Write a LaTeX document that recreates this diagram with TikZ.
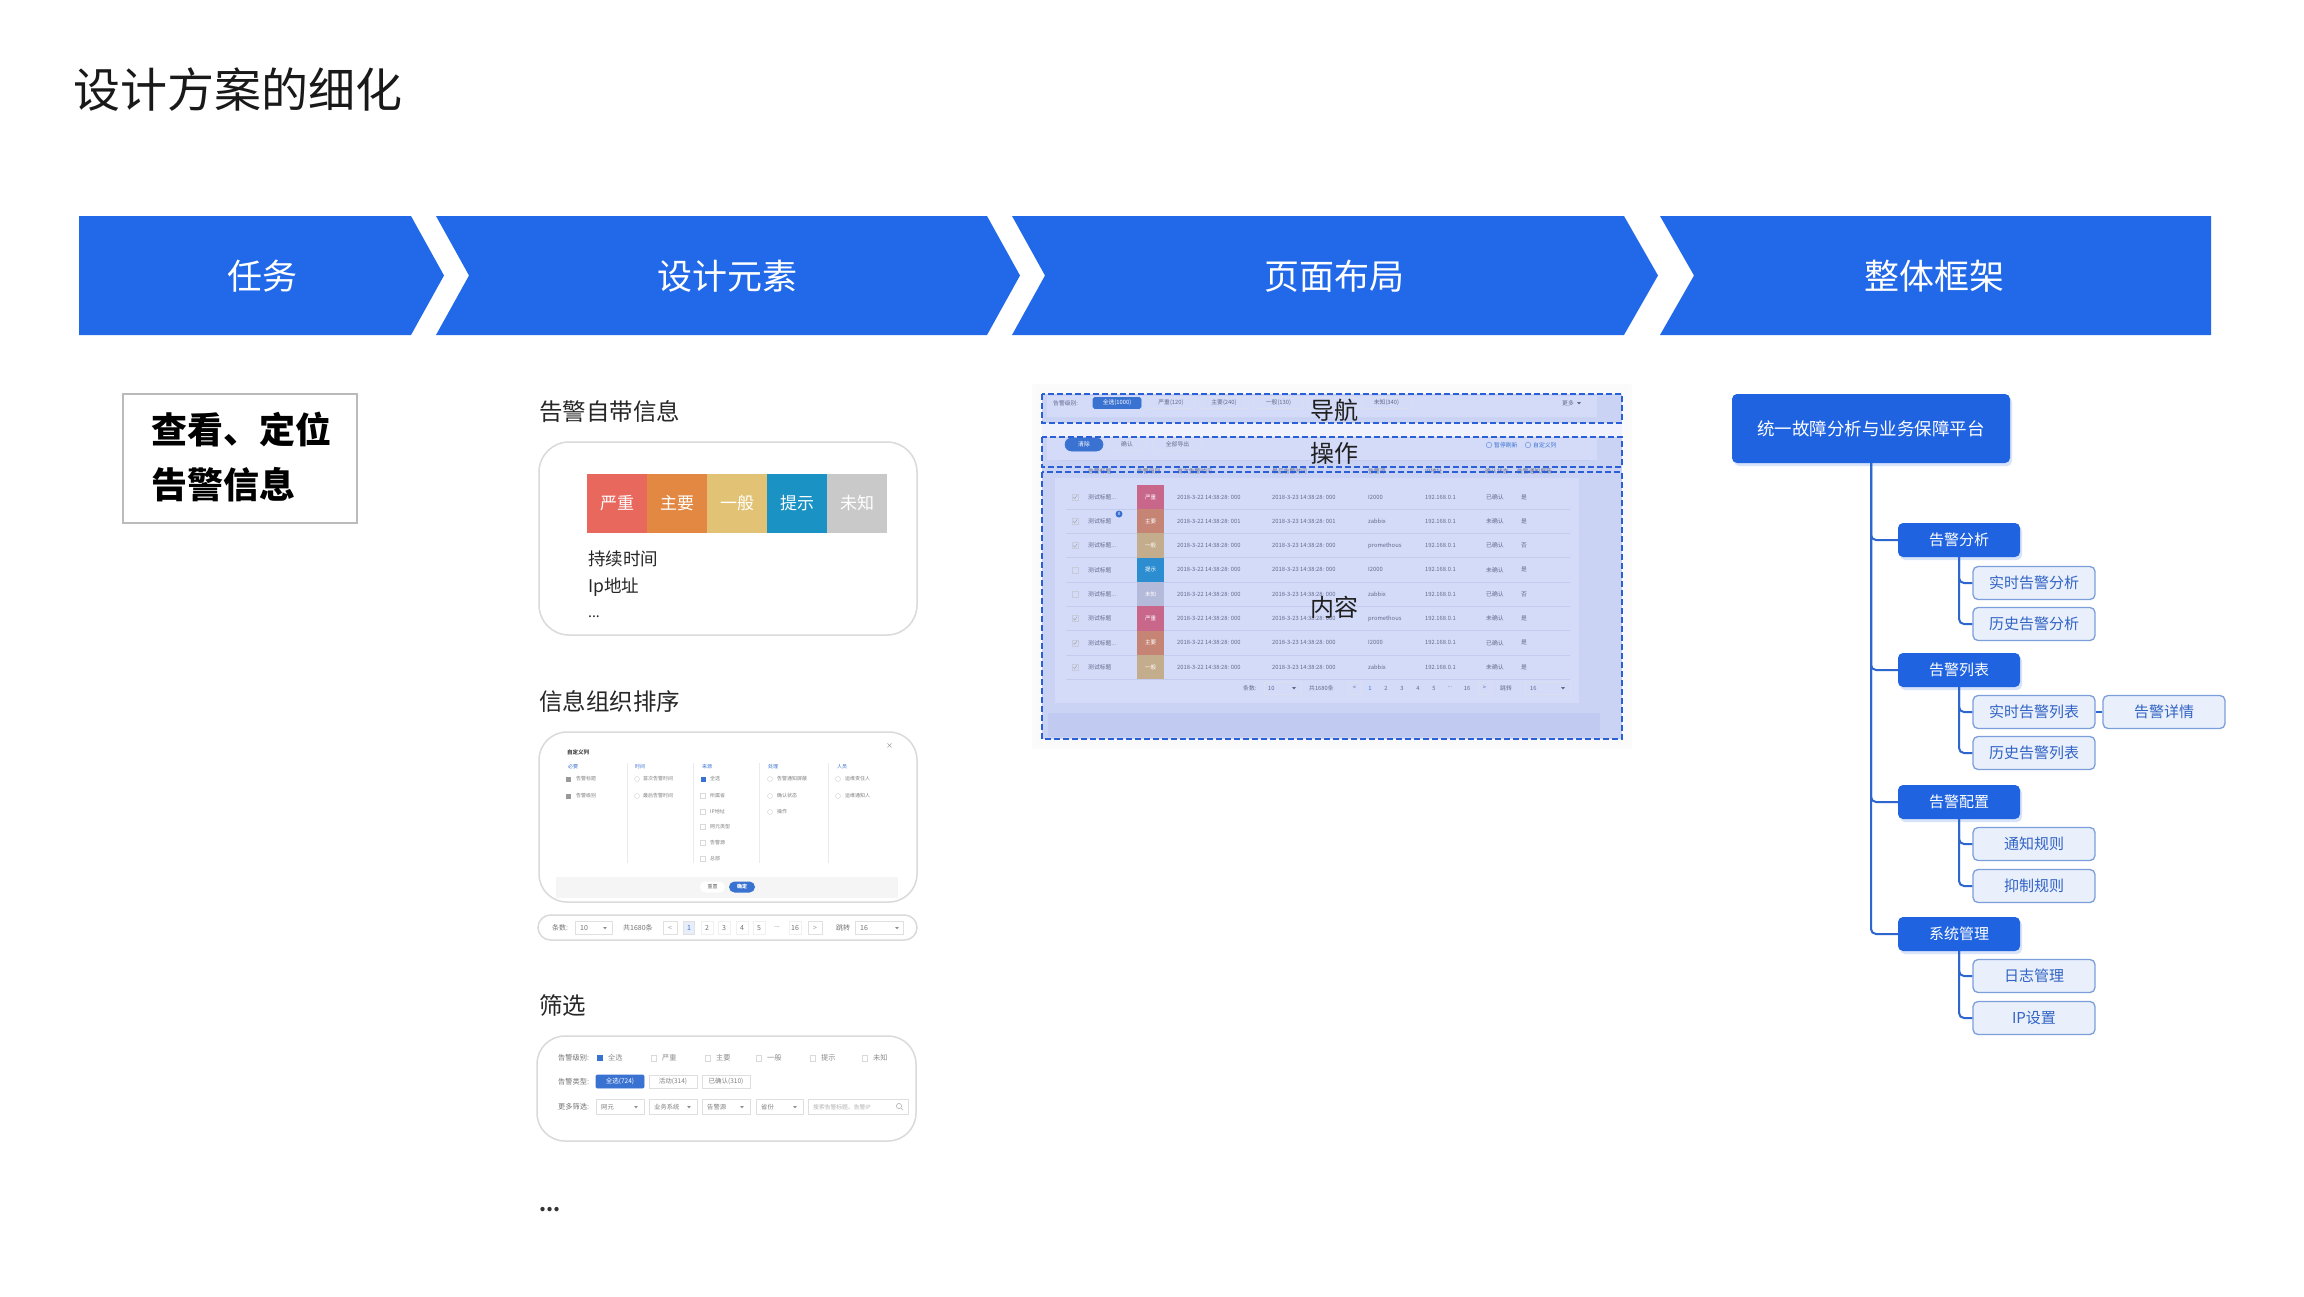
\documentclass[tikz,border=0pt]{standalone}
\usepackage{fontspec}
\setmainfont{Noto Sans CJK SC}
\usetikzlibrary{shadows}
\newcommand\fsz[1]{\fontsize{#1}{#1}\selectfont}
\newcommand\tdots{.{}..}
\newcommand\dtri[2]{\fill[black!45] ({#1-1.8},{#2-0.9}) -- ({#1+1.8},{#2-0.9}) -- (#1,{#2+1.3}) -- cycle;}
\definecolor{chev}{HTML}{2169E8}
\definecolor{treeblue}{HTML}{1F63E0}
\definecolor{l2fill}{HTML}{E9F0FB}
\definecolor{l2line}{HTML}{7C9EDA}
\definecolor{l2text}{HTML}{3263C4}
\definecolor{branch}{HTML}{2C66CE}
\definecolor{cardline}{HTML}{DADADA}
\definecolor{lav}{HTML}{CBD3F4}
\definecolor{lavlight}{HTML}{D4DBF8}
\definecolor{lavdark}{HTML}{BCC6EE}
\definecolor{lavline}{HTML}{C3CBEF}
\definecolor{dashblue}{HTML}{2B5FD8}
\definecolor{sstext}{HTML}{626A8E}
\definecolor{ssblue}{HTML}{3A72D2}
\definecolor{cRed}{HTML}{E8685E}
\definecolor{cOrange}{HTML}{E38842}
\definecolor{cYellow}{HTML}{E2C274}
\definecolor{cBlue}{HTML}{1A92C4}
\definecolor{cGray}{HTML}{C9C9C9}
\definecolor{oRed}{HTML}{C9678A}
\definecolor{oOrange}{HTML}{C58474}
\definecolor{oYellow}{HTML}{C4AD8C}
\definecolor{oBlue}{HTML}{2C8ED0}
\definecolor{oGray}{HTML}{B4BAD9}
\tikzset{
  chevtext/.style={text=white, font=\fsz{35}, inner sep=0},
  lbl/.style={anchor=west, inner sep=0, font=\fsz{23.5}, text=black!85},
  card/.style={draw=cardline, line width=1.5pt, fill=white},
  seg/.style={minimum width=60pt, minimum height=59pt, inner sep=0, text=white, font=\fsz{17}},
  info/.style={anchor=west, inner sep=0, font=\fsz{17.5}, text=black!85},
  dlg/.style={anchor=west, inner sep=0, font=\fsz{5}, text=black!50},
  pg/.style={inner sep=0, font=\fsz{7}, text=black!55},
  pgbox/.style={draw=black!12, line width=0.6pt, inner sep=0},
  flt/.style={anchor=west, inner sep=0, font=\fsz{7.2}, text=black!55},
  fltbox/.style={draw=black!13, line width=0.6pt, inner sep=0, minimum height=13pt, font=\fsz{6.5}, text=black!50},
  sst/.style={anchor=west, inner sep=0, font=\fsz{5.8}, text=sstext},
  ssbox/.style={draw=lavline!70!sstext!40, line width=0.6pt, rounded corners=1.5pt, inner sep=0, minimum height=11pt, font=\fsz{5.8}, text=sstext},
  dashbox/.style={draw=dashblue, line width=2pt, dash pattern=on 6pt off 3pt},
  arealbl/.style={inner sep=0, font=\fsz{24}, text=black!88},
  rootbox/.style={fill=treeblue, text=white, rounded corners=5pt, minimum width=278pt, minimum height=69pt, font=\fsz{17.5}, inner sep=0,
     drop shadow={shadow xshift=2pt, shadow yshift=-3pt, opacity=.25, fill=treeblue!70}},
  lone/.style={fill=treeblue, text=white, rounded corners=5pt, minimum width=122pt, minimum height=34pt, font=\fsz{15}, inner sep=0,
     drop shadow={shadow xshift=2pt, shadow yshift=-3pt, opacity=.25, fill=treeblue!70}},
  ltwo/.style={fill=l2fill, draw=l2line, line width=1.3pt, text=l2text, rounded corners=5pt, minimum width=122pt, minimum height=33pt, font=\fsz{15}, inner sep=0},
  brl/.style={draw=branch, line width=2pt, rounded corners=5pt},
}
\begin{document}
\begin{tikzpicture}[x=1pt,y=-1pt]
\useasboundingbox (0,0) rectangle (2304,1296);
\fill[white] (0,0) rectangle (2304,1296);

% ---------- title ----------
\node[anchor=west, inner sep=0, font=\fsz{47}, text=black!90] (title) at (73,90) {设计方案的细化};

% ---------- chevrons ----------
\fill[chev] (79,216) -- (411,216) -- (444,275.5) -- (411,335) -- (79,335) -- cycle;
\fill[chev] (436,216) -- (987,216) -- (1020,275.5) -- (987,335) -- (436,335) -- (469,275.5) -- cycle;
\fill[chev] (1012,216) -- (1624,216) -- (1658,275.5) -- (1624,335) -- (1012,335) -- (1045,275.5) -- cycle;
\fill[chev] (1660,216) -- (2211,216) -- (2211,335) -- (1660,335) -- (1694,275.5) -- cycle;
\node[chevtext] (c1) at (262,276) {任务};
\node[chevtext] (c2) at (727,276) {设计元素};
\node[chevtext] (c3) at (1334,276) {页面布局};
\node[chevtext] (c4) at (1934,276) {整体框架};

% ---------- task box ----------
\draw[black!27, line width=2.5pt] (123,394) rectangle (357,523);
\node[anchor=west, inner sep=0, font=\fsz{36}\bfseries] (tk1) at (151,430) {查看、定位};
\node[anchor=west, inner sep=0, font=\fsz{36}\bfseries] (tk2) at (151,485) {告警信息};

% ---------- design elements ----------
\node[lbl] (l1) at (539,412) {告警自带信息};
\draw[card, rounded corners=30pt] (539,442) rectangle (917,635);
\fill[cRed] (587,474) rectangle (647,533);
\fill[cOrange] (647,474) rectangle (707,533);
\fill[cYellow] (707,474) rectangle (767,533);
\fill[cBlue] (767,474) rectangle (827,533);
\fill[cGray] (827,474) rectangle (887,533);
\node[seg] (s1) at (617,503.5) {严重};
\node[seg] (s2) at (677,503.5) {主要};
\node[seg] (s3) at (737,503.5) {一般};
\node[seg] (s4) at (797,503.5) {提示};
\node[seg] (s5) at (857,503.5) {未知};
\node[info] (i1) at (588,559) {持续时间};
\node[info] (i2) at (588,587) {Ip地址};
\node[info, font=\fsz{14}] (i3) at (588,617) {...};

\node[lbl] (l2) at (539,701) {信息组织排序};
\draw[card, rounded corners=28pt] (539,732) rectangle (917,902);
% dialog
\node[dlg, text=black!72, font=\fsz{5.5}\bfseries] (dt) at (567,752) {自定义列};
\node[dlg, font=\fsz{7}] (dx) at (886,746) {×};
\foreach \k/\xx/\tt in {1/568/必要,2/635/时间,3/702/来源,4/768/处理,5/837/人员}
  \node[dlg, text=ssblue] (dh\k) at (\xx,767) {\tt};
\foreach \xx in {627,693,759,828}
  \draw[black!8, line width=0.8pt] (\xx,763) -- (\xx,863);
\foreach \k/\xx/\yy/\tt in {1/576/779/告警标题,2/576/796/告警级别,3/643/779/首次告警时间,4/643/796/最后告警时间,
  5/710/779/全选,6/710/796/所属省,7/710/812/IP地址,8/710/827/网元类型,9/710/843/告警源,10/710/859/总部,
  11/777/779/告警通知屏蔽,12/777/796/确认状态,13/777/812/操作,14/845/779/运维责任人,15/845/796/运维通知人}
  \node[dlg] (di\k) at (\xx,\yy) {\tt};
\fill[black!40] (565.5,776.5) rectangle (570.5,781.5);
\fill[black!40] (565.5,793.5) rectangle (570.5,798.5);
\fill[ssblue] (700.5,776.5) rectangle (705.5,781.5);
\foreach \yy in {796,812,827,843,859} \draw[black!15, line width=0.5pt] (700.5,\yy-2.5) rectangle (705.5,\yy+2.5);
\foreach \xx/\yy in {637/779,637/796,770/779,770/796,770/812,838/779,838/796}
  \draw[black!15, line width=0.5pt] (\xx,\yy) circle (2.5);
\fill[black!4] (556,877) rectangle (898,898);
\node[fill=white, rounded corners=5.5pt, minimum width=25pt, minimum height=11pt, inner sep=0, font=\fsz{5}, text=black!60] (dr) at (712.5,887) {重置};
\node[fill=ssblue, rounded corners=5.5pt, minimum width=26pt, minimum height=11pt, inner sep=0, font=\fsz{5}\bfseries, text=white] (dok) at (742,887) {确定};
% pagination pill
\draw[card, rounded corners=12.5pt] (538,915) rectangle (917,940);
\node[pg, anchor=west] (p1) at (552,928) {条数:};
\node[pgbox, minimum width=37pt, minimum height=13pt] (p2) at (593.5,928) {};
\node[pg, anchor=west] (p2t) at (580,928) {10};
\dtri{605}{928}
\node[pg, anchor=west] (p3) at (623,928) {共1680条};
\node[pgbox, minimum width=14pt, minimum height=13pt, font=\fsz{7}, text=black!40] (p4) at (670,928) {<};
\node[pgbox, fill=ssblue!12, minimum width=11pt, minimum height=13pt, font=\fsz{7}, text=ssblue] (p5) at (689,928) {1};
\foreach \k/\xx/\tt in {6/707/2,7/724/3,8/742/4,9/759/5,11/795/16}
  \node[pgbox, draw=black!6, minimum width=12pt, minimum height=13pt, font=\fsz{7}, text=black!55] (p\k) at (\xx,928) {\tt};
\node[pg] (p10) at (777,927) {...};
\node[pgbox, minimum width=14pt, minimum height=13pt, font=\fsz{7}, text=black!40] (p12) at (815,928) {>};
\node[pg, anchor=west] (p13) at (836,928) {跳转};
\node[pgbox, minimum width=48pt, minimum height=13pt] (p14) at (879,928) {};
\node[pg, anchor=west] (p14t) at (860,928) {16};
\dtri{897}{928}

\node[lbl] (l3) at (539,1005) {筛选};
\draw[card, rounded corners=28pt] (537,1036) rectangle (916,1141);
\node[flt] (f1) at (558,1058) {告警级别:};
\fill[ssblue] (597,1055) rectangle (603,1061);
\node[flt, text=black!45] (f1a) at (608,1058) {全选};
\foreach \k/\xx/\tt in {b/651/严重,c/705/主要,d/756/一般,e/810/提示,f/862/未知}{
  \draw[black!15, line width=0.5pt] (\xx,1055) rectangle (\xx+5.5,1061);
  \node[flt, text=black!45] (f1\k) at (\xx+11,1058) {\tt};
}
\node[flt] (f2) at (558,1082) {告警类型:};
\node[fltbox, fill=ssblue, draw=ssblue, text=white, minimum width=48pt, rounded corners=1pt] (f2a) at (620,1081.5) {全选(724)};
\node[fltbox, minimum width=48pt] (f2b) at (673,1081.5) {活动(314)};
\node[fltbox, minimum width=48pt] (f2c) at (726,1081.5) {已确认(310)};
\node[flt] (f3) at (558,1107) {更多筛选:};
\foreach \k/\xa/\xb/\tt in {a/596/644/网元,b/649/697/业务系统,c/702/750/告警源,d/756/803/省份}{
  \draw[black!13, line width=0.6pt] (\xa,1099.5) rectangle (\xb,1114.5);
  \node[flt, font=\fsz{6.3}, text=black!50] (f3\k) at (\xa+5,1107) {\tt};
  \dtri{\xb-8}{1107}
}
\draw[black!13, line width=0.6pt] (808,1099.5) rectangle (908,1114.5);
\node[flt, font=\fsz{5.8}, text=black!30] (f3e) at (813,1107) {搜索告警标题、告警IP};
\draw[black!30, line width=0.6pt] (899,1106) circle (2.6);
\draw[black!30, line width=0.6pt] (901,1108) -- (903,1110);
\node[anchor=west, inner sep=0, font=\fsz{20}\bfseries, text=black!80] (more) at (539,1210) {...};

% ---------- page layout screenshot ----------
\fill[black!2] (1036,388) rectangle (1628,745);
\fill[black!1.5] (1032,384) rectangle (1632,749);
\fill[black!2] (1036,388) rectangle (1628,745);
\fill[lav] (1042,394) rectangle (1622,423);
\fill[lav!30] (1042,423) rectangle (1622,437);
\fill[lav] (1042,437) rectangle (1622,739);
\fill[lavlight] (1047,396) rectangle (1597,417);
\fill[lavlight] (1047,438) rectangle (1597,460);
\draw[lavline, line width=0.8pt] (1060,460) -- (1590,460);
\fill[lavlight] (1055,478) rectangle (1579,703);
\fill[lavdark!70!lav] (1048,713) rectangle (1600,737);
% nav
\node[sst] (n0) at (1053,403) {告警级别:};
\node[ssbox, fill=ssblue, draw=ssblue, text=white, minimum width=48pt] (n1) at (1117,403) {全选(1000)};
\node[ssbox, minimum width=48pt] (n2) at (1171,403) {严重(120)};
\node[ssbox, minimum width=48pt] (n3) at (1224,403) {主要(240)};
\node[ssbox, minimum width=49pt] (n4) at (1278.5,403) {一般(130)};
\node[ssbox, minimum width=49pt] (n5) at (1332.5,403) {};
\node[ssbox, minimum width=49pt] (n6) at (1386.5,403) {未知(340)};
\node[sst] (n7) at (1562,403) {更多};
\fill[sstext] (1577,402) -- (1581,402) -- (1579,404.5) -- cycle;
% operations
\node[ssbox, fill=ssblue, draw=ssblue, text=white, minimum width=38pt, minimum height=13pt, rounded corners=6.5pt] (o1) at (1084,444.5) {清除};
\node[ssbox, minimum width=38pt, minimum height=13pt, rounded corners=6.5pt] (o2) at (1127,444.5) {确认};
\node[ssbox, minimum width=51pt, minimum height=13pt, rounded corners=6.5pt] (o3) at (1177.5,444.5) {全部导出};
\draw[ssblue!70, line width=0.6pt] (1489,445) circle (2.8);
\node[sst, text=ssblue] (o4) at (1494,445) {暂停刷新};
\draw[ssblue!70, line width=0.6pt] (1528,445) circle (2.8);
\node[sst, text=ssblue] (o5) at (1533,445) {自定义列};
% table header
\foreach \k/\xx/\tt in {1/1088/告警标题,2/1137/告警级别,3/1177/首次告警时间,4/1272/最后告警时间,5/1368/告警源,6/1425/IP地址,7/1485/确认状态,8/1517/告警通知屏蔽}
  \node[sst] (th\k) at (\xx,471) {\tt};
% rows
\foreach \i/\lvv/\ccc/\ttl/\mss/\srcc/\stt/\ynn/\ck in {
  1/严重/oRed/测试标题\tdots/000/I2000/已确认/是/1,
  2/主要/oOrange/测试标题/001/zabbix/未确认/是/1,
  3/一般/oYellow/测试标题\tdots/000/promethous/已确认/否/1,
  4/提示/oBlue/测试标题/000/I2000/未确认/是/0,
  5/未知/oGray/测试标题\tdots/000/zabbix/已确认/否/0,
  6/严重/oRed/测试标题/000/promethous/未确认/是/1,
  7/主要/oOrange/测试标题\tdots/000/I2000/已确认/是/1,
  8/一般/oYellow/测试标题/000/zabbix/未确认/是/1}{
  \pgfmathsetmacro\yy{497+24.3*(\i-1)}
  \draw[lavline, line width=0.7pt] (1066,\yy+12.15) -- (1570,\yy+12.15);
  \fill[\ccc] (1137,\yy-12.15) rectangle (1164,\yy+12.15);
  \node[inner sep=0, font=\fsz{5.5}, text=white] (rl\i) at (1150.5,\yy) {\lvv};
  \draw[sstext!35, line width=0.5pt] (1072,\yy-3) rectangle (1078,\yy+3);
  \ifnum\ck=1 \draw[sstext!60, line width=0.5pt] (1073.3,\yy) -- (1074.8,\yy+1.6) -- (1077,\yy-1.8); \fi
  \node[sst] (rt\i) at (1088,\yy) {\ttl};
  \node[sst] (ra\i) at (1177,\yy) {2018-3-22 14:38:28: \mss};
  \node[sst] (rb\i) at (1272,\yy) {2018-3-23 14:38:28: \mss};
  \node[sst] (rs\i) at (1368,\yy) {\srcc};
  \node[sst] (ri\i) at (1425,\yy) {192.168.0.1};
  \node[sst] (rc\i) at (1486,\yy) {\stt};
  \node[sst] (ry\i) at (1521,\yy) {\ynn};
}
\node[circle, fill=ssblue, inner sep=0, minimum size=7pt, text=white, font=\fsz{4.5}] (bdg) at (1119,514) {0};
% content pagination
\node[sst] (q1) at (1243,688) {条数:};
\node[ssbox, rounded corners=0pt, minimum width=37pt, minimum height=12pt] (q2) at (1282.5,688) {};
\node[sst] (q2t) at (1268,688) {10};
\fill[sstext] (1292,687) -- (1296,687) -- (1294,689.5) -- cycle;
\node[sst] (q3) at (1309,688) {共1680条};
\node[ssbox, rounded corners=0pt, minimum width=13pt, minimum height=12pt] (q4) at (1354.5,688) {<};
\node[sst, anchor=center, text=ssblue] (q5) at (1370,688) {1};
\foreach \k/\xx/\tt in {6/1386/2,7/1402/3,8/1418/4,9/1434/5,11/1467/16}
  \node[sst, anchor=center] (q\k) at (\xx,688) {\tt};
\node[sst, anchor=center] (q10) at (1450,687) {...};
\node[ssbox, rounded corners=0pt, minimum width=13pt, minimum height=12pt] (q12) at (1484.5,688) {>};
\node[sst] (q13) at (1500,688) {跳转};
\node[ssbox, rounded corners=0pt, minimum width=45pt, minimum height=12pt] (q14) at (1547.5,688) {};
\node[sst] (q14t) at (1530,688) {16};
\fill[sstext] (1561,687) -- (1565,687) -- (1563,689.5) -- cycle;
% dashed regions and their labels
\draw[dashbox] (1042,394) rectangle (1622,423);
\draw[dashbox] (1042,437) rectangle (1622,467);
\draw[dashbox] (1042,472) rectangle (1622,739);
\node[arealbl] (nav) at (1334,410) {导航};
\node[arealbl] (ops) at (1334,453) {操作};
\node[arealbl] (cnt) at (1334,607) {内容};

% ---------- framework tree ----------
\node[rootbox] (root) at (1871,428.5) {统一故障分析与业务保障平台};
\node[lone] (A) at (1959,540) {告警分析};
\node[ltwo] (A1) at (2034,583) {实时告警分析};
\node[ltwo] (A2) at (2034,624) {历史告警分析};
\node[lone] (B) at (1959,670) {告警列表};
\node[ltwo] (B1) at (2034,712) {实时告警列表};
\node[ltwo] (B2) at (2034,753) {历史告警列表};
\node[ltwo] (B3) at (2164,712) {告警详情};
\node[lone] (C) at (1959,802) {告警配置};
\node[ltwo] (C1) at (2034,844) {通知规则};
\node[ltwo] (C2) at (2034,886) {抑制规则};
\node[lone] (D) at (1959,934) {系统管理};
\node[ltwo] (D1) at (2034,976) {日志管理};
\node[ltwo] (D2) at (2034,1018) {IP设置};
\foreach \n in {A,B,C,D} \draw[brl] (root.south) |- (\n.west);
\foreach \p/\c in {A/A1,A/A2,B/B1,B/B2,C/C1,C/C2,D/D1,D/D2} \draw[brl] (\p.south) |- (\c.west);
\draw[brl] (B1.east) -- (B3.west);
\end{tikzpicture}
\end{document}
